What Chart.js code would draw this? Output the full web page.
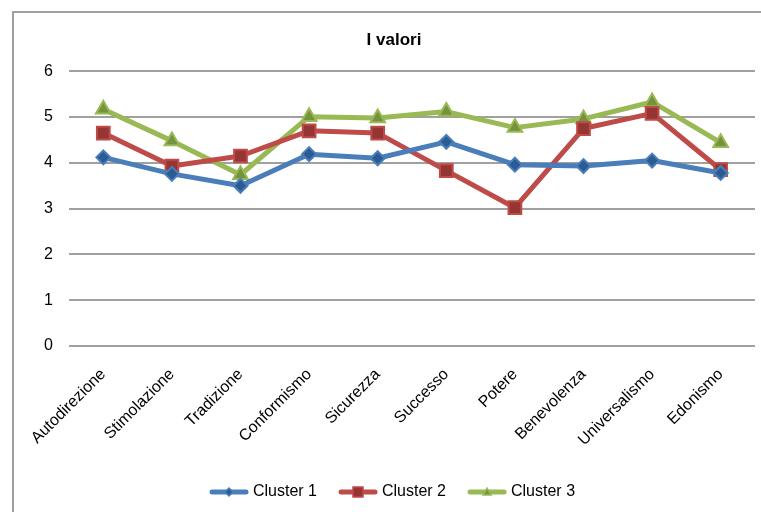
<!DOCTYPE html>
<html>
<head>
<meta charset="utf-8">
<style>
  html, body { margin: 0; padding: 0; background: #fff; }
  #wrap { width: 761px; height: 512px; position: relative; }
</style>
<script src="https://cdn.jsdelivr.net/npm/chart.js@4/dist/chart.umd.min.js"></script>
</head>
<body>
<div id="wrap"><canvas id="chart" width="761" height="512"></canvas></div>
<script>
// Chart data
const categories = ['Autodirezione', 'Stimolazione', 'Tradizione', 'Conformismo', 'Sicurezza',
                    'Successo', 'Potere', 'Benevolenza', 'Universalismo', 'Edonismo'];
const seriesNames = ['Cluster 1', 'Cluster 2', 'Cluster 3'];
const cluster1 = [4.12, 3.76, 3.50, 4.19, 4.10, 4.46, 3.96, 3.93, 4.05, 3.78];
const cluster2 = [4.65, 3.93, 4.15, 4.70, 4.65, 3.83, 3.02, 4.75, 5.08, 3.85];
const cluster3 = [5.17, 4.48, 3.74, 5.01, 4.98, 5.12, 4.77, 4.96, 5.33, 4.44];
const yTicks = [0, 1, 2, 3, 4, 5, 6];
const chartTitle = 'I valori';

// Series styling
const styles = [
  { line: '#4a7ebb', fill: '#2b5b93', marker: 'rectRot', radius: 7 },
  { line: '#be4b48', fill: '#953634', marker: 'rect', radius: 9 },
  { line: '#98b954', fill: '#76923c', marker: 'triangle', radius: 8.5 }
];
const values = [cluster1, cluster2, cluster3];

// Small line + marker swatch used as legend symbol
function legendSwatch(s) {
  const c = document.createElement('canvas');
  c.width = 40; c.height = 14;
  const g = c.getContext('2d');
  g.strokeStyle = s.line; g.lineWidth = 5; g.lineCap = 'round';
  g.beginPath(); g.moveTo(3, 7); g.lineTo(37, 7); g.stroke();
  g.fillStyle = s.fill; g.strokeStyle = s.line; g.lineWidth = 1.5;
  g.beginPath();
  if (s.marker === 'rectRot') {
    g.moveTo(20, 3); g.lineTo(24, 7); g.lineTo(20, 11); g.lineTo(16, 7); g.closePath();
  } else if (s.marker === 'rect') {
    g.rect(15, 2, 10, 10);
  } else {
    g.moveTo(20, 3); g.lineTo(24, 10); g.lineTo(16, 10); g.closePath();
  }
  g.fill(); g.stroke();
  return c;
}
const swatches = styles.map(legendSwatch);

// Outer frame around the chart
const framePlugin = {
  id: 'frame',
  beforeDraw(chart) {
    const ctx = chart.ctx;
    ctx.save();
    ctx.strokeStyle = '#a0a0a0';
    ctx.lineWidth = 2;
    ctx.strokeRect(13, 12, 900, 700);
    ctx.restore();
  }
};

const datasets = values.map((v, i) => ({
  label: seriesNames[i],
  data: v,
  borderColor: styles[i].line,
  backgroundColor: styles[i].fill,
  borderWidth: 5,
  borderJoinStyle: 'round',
  borderCapStyle: 'round',
  tension: 0,
  pointStyle: styles[i].marker,
  pointRadius: styles[i].radius,
  pointHoverRadius: styles[i].radius,
  pointBackgroundColor: styles[i].fill,
  pointBorderColor: styles[i].line,
  pointBorderWidth: 2
}));

new Chart(document.getElementById('chart'), {
  type: 'line',
  data: { labels: categories, datasets },
  plugins: [framePlugin],
  options: {
    responsive: false,
    animation: false,
    devicePixelRatio: 1,
    layout: { autoPadding: false, padding: { left: 33, right: 6, top: 0, bottom: 2 } },
    plugins: {
      title: {
        display: true,
        text: chartTitle,
        color: '#000',
        font: { family: 'Liberation Sans, Arial, sans-serif', size: 17, weight: 'bold', lineHeight: 1.2 },
        padding: { top: 30.5, bottom: 20.4 }
      },
      legend: {
        position: 'bottom',
        labels: {
          usePointStyle: true,
          pointStyleWidth: 32,
          padding: 25,
          color: '#000',
          font: { family: 'Liberation Sans, Arial, sans-serif', size: 16 },
          generateLabels(chart) {
            const items = Chart.defaults.plugins.legend.labels.generateLabels(chart);
            items.forEach((it, i) => { it.pointStyle = swatches[i]; });
            return items;
          }
        }
      },
      tooltip: { enabled: false }
    },
    scales: {
      x: {
        offset: true,
        grid: { display: false, drawTicks: false },
        border: { display: false },
        ticks: {
          autoSkip: false,
          minRotation: 45,
          maxRotation: 45,
          padding: 19,
          color: '#000',
          font: { family: 'Liberation Sans, Arial, sans-serif', size: 16 }
        },
        afterFit(scale) {
          scale.height = 113;
          scale.paddingLeft = 0;
          scale.paddingRight = 0;
        }
      },
      y: {
        min: yTicks[0],
        max: yTicks[yTicks.length - 1],
        afterBuildTicks(scale) { scale.ticks = yTicks.map(v => ({ value: v })); },
        grid: { color: '#a0a0a0', lineWidth: 2, drawTicks: false },
        border: { display: false },
        ticks: {
          padding: 16,
          color: '#000',
          font: { family: 'Liberation Sans, Arial, sans-serif', size: 16 }
        },
        afterFit(scale) { scale.width = 36; }
      }
    }
  }
});
</script>
</body>
</html>
